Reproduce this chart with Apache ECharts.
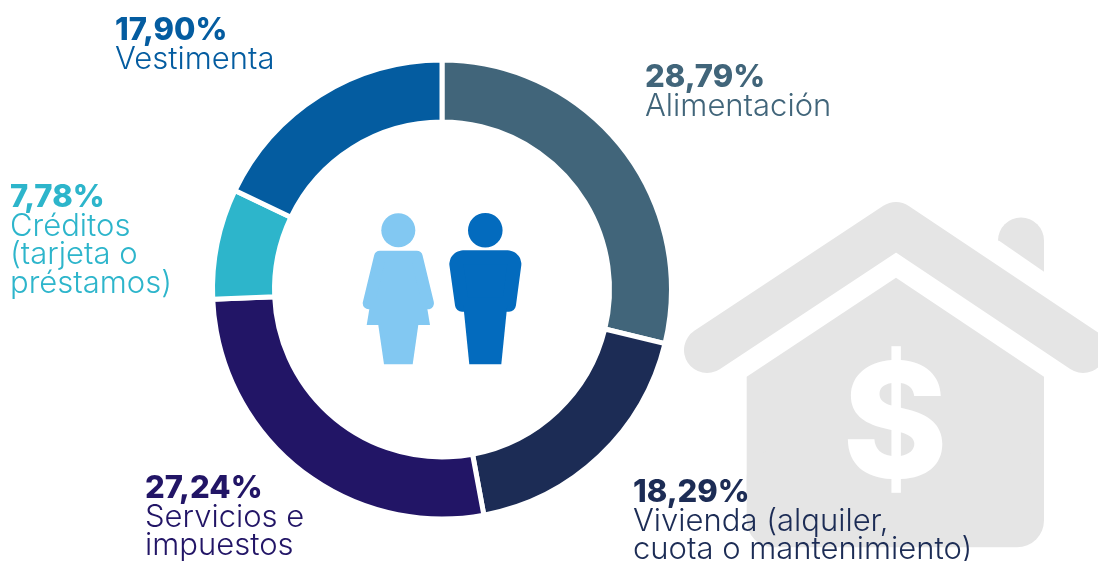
<!DOCTYPE html>
<html lang="es">
<head>
  <meta charset="UTF-8">
  <title>Distribución de gastos</title>
  <script src="https://cdnjs.cloudflare.com/ajax/libs/echarts/6.0.0/echarts.min.js"></script>
  <style>
    html, body { margin: 0; padding: 0; background: #fff; }
    #chart { width: 1098px; height: 561px; }
  </style>
</head>
<body>
  <div id="chart"></div>
  <script>
    // Chart data
    const categories = ['Alimentación', 'Vivienda (alquiler,\ncuota o mantenimiento)', 'Servicios e\nimpuestos', 'Créditos\n(tarjeta o\npréstamos)', 'Vestimenta'];
    const shares = [28.79, 18.29, 27.24, 7.78, 17.90];

    const colors = ['#41657a', '#1c2c55', '#221566', '#2db5cb', '#045ca0'];
    const labelSpots = [[645, 63], [633, 478], [145, 474], [10, 183], [115, 16]];

    const GREY = '#e5e5e5', LIGHT = '#82c8f2', DARK = '#036bbe';

    const chart = echarts.init(document.getElementById('chart'));

    // House behind the ring
    const house = [
      { type: 'sector', shape: { cx: 1021, cy: 240.5, r: 23, r0: 0, startAngle: Math.PI, endAngle: Math.PI * 2 }, style: { fill: GREY } },
      { type: 'polygon', shape: { points: [[998, 240], [1044, 240], [1044, 271.7]] }, style: { fill: GREY } },
      { type: 'polygon', shape: { points: [[746.7, 376.7], [896, 277.7], [1044, 376.7], [1044, 500], [746.7, 500]] }, style: { fill: GREY } },
      { type: 'rect', shape: { x: 746.7, y: 450, width: 297.3, height: 97.3, r: 27 }, style: { fill: GREY } },
      { type: 'polyline', shape: { points: [[707, 350], [896, 225], [1083, 350]] },
        style: { fill: null, stroke: GREY, lineWidth: 46, lineCap: 'round', lineJoin: 'round' } },
      { type: 'text', x: 895, y: 430, style: { text: '$', fill: '#fff', font: '800 160px Inter', textAlign: 'center', textVerticalAlign: 'middle' } }
    ];

    // Woman and man in the middle of the ring
    const people = [
      { type: 'circle', shape: { cx: 398.3, cy: 230.3, r: 17 }, style: { fill: LIGHT } },
      { type: 'polygon', shape: { points: [[380, 256.7], [416.7, 256.7], [428, 303.3], [368.7, 303.3]] },
        style: { fill: LIGHT, stroke: LIGHT, lineWidth: 12, lineJoin: 'round' } },
      { type: 'polygon', shape: { points: [[370, 305], [426.7, 305], [430, 325], [366.7, 325]] }, style: { fill: LIGHT } },
      { type: 'polygon', shape: { points: [[378.3, 325], [418.3, 325], [412.7, 364.3], [384, 364.3]] }, style: { fill: LIGHT } },
      { type: 'circle', shape: { cx: 485.3, cy: 230.3, r: 17.3 }, style: { fill: DARK } },
      { type: 'polygon', shape: { points: [[463, 257.3], [507.7, 257.3], [511.05, 258.2], [513.5, 260.65], [514.4, 264], [509, 304.7], [462, 304.7], [456.3, 264], [457.2, 260.65], [459.65, 258.2]] },
        style: { fill: DARK, stroke: DARK, lineWidth: 14, lineJoin: 'round' } },
      { type: 'polygon', shape: { points: [[463.3, 305], [507.3, 305], [501.3, 364.3], [469.3, 364.3]] }, style: { fill: DARK } }
    ];

    function labelText(name, value) {
      const lines = name.split('\n').map(l => '{n|' + l + '}').join('\n');
      return '{p|' + value.toFixed(2).replace('.', ',') + '%}\n' + lines;
    }

    chart.setOption({
      animation: false,
      graphic: { elements: house.concat(people).map(el => Object.assign({ z: -1, silent: true }, el)) },
      series: [{
        type: 'pie',
        z: 2,
        center: [442, 289.5],
        radius: [167.5, 229.5],
        startAngle: 90,
        clockwise: true,
        avoidLabelOverlap: false,
        itemStyle: { borderColor: '#fff', borderWidth: 5 },
        label: {
          position: 'outside',
          formatter: p => labelText(p.name, p.value),
          rich: {
            p: { fontFamily: 'Inter', fontWeight: 800, fontSize: 31, lineHeight: 29 },
            n: { fontFamily: 'Inter', fontWeight: 300, fontSize: 31, lineHeight: 28.5 }
          }
        },
        labelLine: { show: false },
        labelLayout: p => ({ x: labelSpots[p.dataIndex][0], y: labelSpots[p.dataIndex][1], align: 'left', verticalAlign: 'top' }),
        emphasis: { disabled: true },
        data: categories.map((name, i) => ({
          name,
          value: shares[i],
          itemStyle: { color: colors[i] },
          label: { color: colors[i] }
        }))
      }]
    });
  </script>
</body>
</html>
